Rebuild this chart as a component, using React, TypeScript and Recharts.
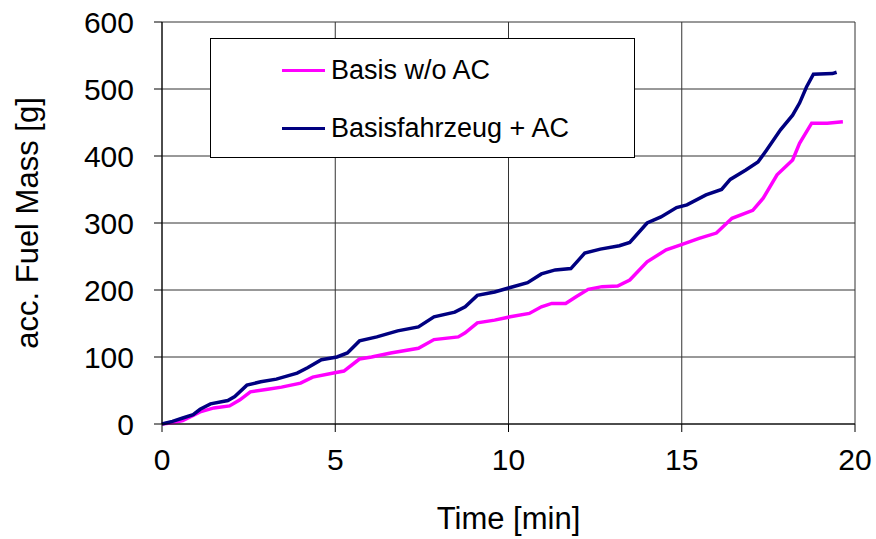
import React from "react"
import { CartesianGrid, Line, LineChart, XAxis, YAxis } from "recharts"

// Basis w/o AC
const basisTime = [
  0, 0.3, 0.6, 1.1, 1.5, 1.95, 2.25, 2.55, 3.05, 3.45, 4.0, 4.35, 4.95, 5.25, 5.7, 6.05, 6.6, 7.4, 7.85,
  8.55, 8.75, 9.1, 9.6, 10.05, 10.6, 10.95, 11.25, 11.65, 11.95, 12.3, 12.7, 13.15, 13.5, 14.0, 14.55,
  14.95, 15.5, 16.0, 16.45, 17.05, 17.35, 17.75, 18.2, 18.4, 18.75, 19.2, 19.65,
]
const basisMass = [
  0, 2, 5, 18, 24, 27, 36, 48, 52, 55, 61, 70, 76, 79, 97, 100, 106, 113, 126,
  130, 136, 151, 155, 160, 165, 175, 180, 180, 190, 201, 205, 206, 215, 242, 260,
  267, 277, 285, 307, 319, 337, 372, 394, 419, 449, 449, 451,
]

// Basisfahrzeug + AC
const acTime = [
  0, 0.3, 0.6, 0.9, 1.1, 1.4, 1.9, 2.1, 2.45, 2.85, 3.3, 3.9, 4.2, 4.6, 5.05, 5.35, 5.7, 6.2, 6.8,
  7.4, 7.85, 8.45, 8.75, 9.1, 9.6, 10.0, 10.55, 10.95, 11.35, 11.8, 12.2, 12.65, 13.2, 13.5, 14.0,
  14.4, 14.85, 15.15, 15.7, 16.15, 16.4, 16.85, 17.2, 17.45, 17.85, 18.2, 18.4, 18.6, 18.8, 19.35, 19.47,
]
const acMass = [
  0, 4, 9, 14, 22, 30, 35, 41, 58, 63, 67, 76, 84, 96, 100, 106, 124, 130, 139,
  145, 160, 167, 175, 192, 197, 203, 211, 224, 230, 232, 255, 261, 266, 271, 300,
  309, 323, 327, 342, 350, 365, 379, 391, 409, 439, 461, 479, 503, 522, 523, 525,
]

const xTicks = [0, 5, 10, 15, 20]
const yTicks = [0, 100, 200, 300, 400, 500, 600]

const basisData = basisTime.map((t, i) => ({ t, v: basisMass[i] }))
const acData = acTime.map((t, i) => ({ t, v: acMass[i] }))

const FONT = "'Liberation Sans', Arial, sans-serif"

export default function App() {
  return (
    <div style={{ position: "absolute", left: 0, top: 0, width: 876, height: 539, background: "#fff", fontFamily: FONT }}>
      <LineChart width={876} height={539} margin={{ top: 22, right: 21, bottom: 0, left: 0 }}>
        <CartesianGrid stroke="#333" strokeWidth={1} />
        <XAxis
          type="number"
          dataKey="t"
          domain={[0, 20]}
          ticks={xTicks}
          height={115}
          stroke="#000"
          tickSize={8}
          tickMargin={17}
          tick={{ fill: "#000", fontSize: 30, fontFamily: FONT }}
          label={{ value: "Time [min]", position: "insideBottom", offset: 10, fill: "#000", fontSize: 31, fontFamily: FONT }}
        />
        <YAxis
          type="number"
          domain={[0, 600]}
          ticks={yTicks}
          width={162}
          stroke="#000"
          tickSize={8}
          tickMargin={20}
          tick={{ fill: "#000", fontSize: 30, fontFamily: FONT }}
          label={{
            value: "acc. Fuel Mass [g]",
            angle: -90,
            position: "insideLeft",
            offset: 27,
            fill: "#000",
            fontSize: 31,
            fontFamily: FONT,
            style: { textAnchor: "middle" },
          }}
        />
        <Line data={basisData} dataKey="v" type="linear" stroke="#ff00ff" strokeWidth={3.5} dot={false} isAnimationActive={false} />
        <Line data={acData} dataKey="v" type="linear" stroke="#000080" strokeWidth={3.5} dot={false} isAnimationActive={false} />
      </LineChart>
      <div
        style={{
          position: "absolute",
          left: 210,
          top: 38,
          width: 423,
          height: 118,
          border: "1px solid #000",
          background: "#fff",
          fontSize: 27,
          color: "#000",
        }}
      >
        {[
          { name: "Basis w/o AC", color: "#ff00ff", y: 31 },
          { name: "Basisfahrzeug + AC", color: "#000080", y: 89 },
        ].map((item) => (
          <div key={item.name} style={{ position: "absolute", left: 71, top: item.y - 16, height: 32, display: "flex", alignItems: "center" }}>
            <span style={{ display: "inline-block", width: 43, height: 3, background: item.color, marginRight: 6 }} />
            <span style={{ lineHeight: "32px" }}>{item.name}</span>
          </div>
        ))}
      </div>
    </div>
  )
}
